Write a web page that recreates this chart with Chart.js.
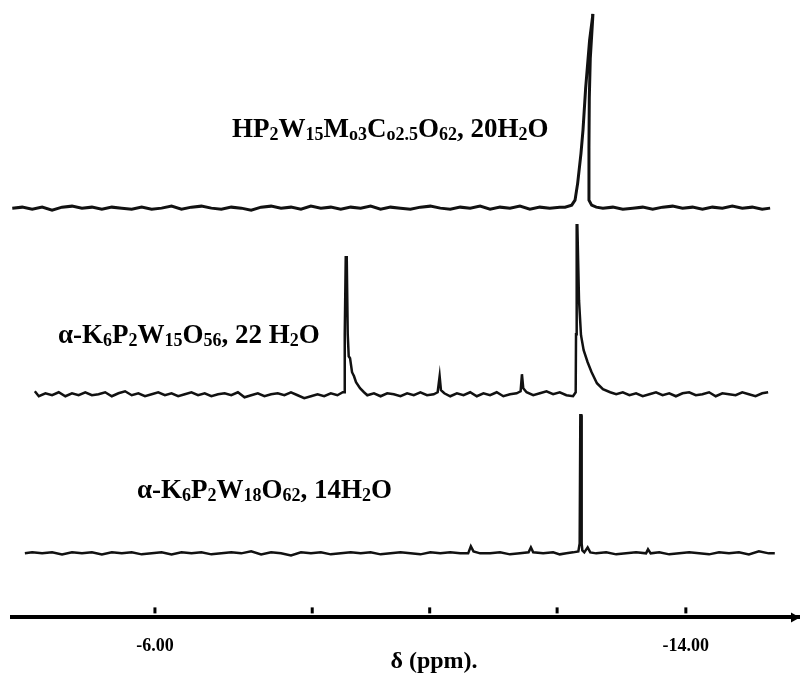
<!DOCTYPE html>
<html>
<head>
<meta charset="utf-8">
<script src="https://cdn.jsdelivr.net/npm/chart.js@4.4.1/dist/chart.umd.min.js"></script>
<style>
  html, body { margin: 0; padding: 0; background: #fff; }
  #wrap { width: 800px; height: 679px; position: relative; }
</style>
</head>
<body>
<div id="wrap"><canvas id="nmr"></canvas></div>
<script>
// 31P NMR spectra, three stacked traces

// x axis (ppm)
const tickValues = [-6, -8.37, -10.14, -12.06, -14];
const tickLabels = ['-6.00', '', '', '', '-14.00'];
const axisTitle = 'δ (ppm).';

// [ppm, intensity] for each spectrum
const topSpectrum = [
  [-3.85, 0], [-4.00, 1], [-4.15, -1], [-4.30, 1], [-4.45, -2], [-4.60, 1], [-4.75, 2], [-4.90, 0],
  [-5.05, 1], [-5.20, -1], [-5.35, 1], [-5.50, 0], [-5.65, -1], [-5.80, 1], [-5.95, -1], [-6.10, 0],
  [-6.25, 2], [-6.40, -1], [-6.55, 1], [-6.70, 2], [-6.85, 0], [-7.00, -1], [-7.15, 1], [-7.30, 0],
  [-7.45, -2], [-7.60, 1], [-7.75, 2], [-7.90, 0], [-8.05, 1], [-8.20, -1], [-8.35, 2], [-8.50, 0],
  [-8.65, 1], [-8.80, -1], [-8.95, 1], [-9.10, 0], [-9.25, 2], [-9.40, -1], [-9.55, 1], [-9.70, 0],
  [-9.85, -1], [-10.00, 1], [-10.15, 2], [-10.30, 0], [-10.45, -1], [-10.60, 1], [-10.75, 0], [-10.90, 2],
  [-11.05, -1], [-11.20, 1], [-11.35, 0], [-11.50, 2], [-11.65, -1], [-11.80, 1], [-11.95, 0], [-12.10, 1],
  [-12.18, 1], [-12.28, 3], [-12.33, 8], [-12.37, 25], [-12.42, 55], [-12.45, 78], [-12.49, 120], [-12.55, 168],
  [-12.60, 194], [-12.595, 188], [-12.56, 150], [-12.545, 110], [-12.54, 60], [-12.54, 8], [-12.58, 3], [-12.65, 1],
  [-12.75, 0], [-12.90, 1], [-13.05, -1], [-13.20, 0], [-13.35, 1], [-13.50, -1], [-13.65, 1], [-13.80, 2],
  [-13.95, 0], [-14.10, 1], [-14.25, -1], [-14.40, 1], [-14.55, 0], [-14.70, 2], [-14.85, 0], [-15.00, 1],
  [-15.15, -1], [-15.27, 0]
];

const midSpectrum = [
  [-4.19, 3], [-4.25, -2], [-4.35, 1], [-4.45, -1], [-4.55, 2], [-4.65, -2], [-4.75, 1], [-4.85, -1],
  [-4.95, 2], [-5.05, -1], [-5.15, 0], [-5.25, 2], [-5.35, -2], [-5.45, 1], [-5.55, 3], [-5.65, -1],
  [-5.75, 1], [-5.85, -2], [-5.95, 0], [-6.05, 2], [-6.15, -1], [-6.25, 1], [-6.35, -2], [-6.45, 0],
  [-6.55, 2], [-6.65, -1], [-6.75, 1], [-6.85, -2], [-6.95, 0], [-7.05, 1], [-7.15, -1], [-7.25, 2],
  [-7.35, -3], [-7.45, -1], [-7.55, 1], [-7.65, -2], [-7.75, 0], [-7.85, 1], [-7.95, -1], [-8.05, 2],
  [-8.15, -1], [-8.25, -4], [-8.35, -2], [-8.45, 0], [-8.55, -2], [-8.65, 1], [-8.75, -1], [-8.83, 2],
  [-8.85, 2], [-8.86, 60], [-8.875, 137], [-8.89, 137], [-8.905, 60], [-8.92, 38], [-8.94, 36], [-8.97, 22],
  [-9.00, 18], [-9.03, 12], [-9.09, 6], [-9.15, 2], [-9.20, -1], [-9.30, 1], [-9.40, -2], [-9.50, 1],
  [-9.60, 0], [-9.70, -2], [-9.80, 1], [-9.90, -1], [-10.00, 2], [-10.10, -1], [-10.20, 0], [-10.26, 2],
  [-10.29, 18], [-10.31, 4], [-10.36, 1], [-10.45, -2], [-10.55, 1], [-10.65, -1], [-10.75, 2], [-10.85, -2],
  [-10.95, 1], [-11.05, -1], [-11.15, 2], [-11.25, -2], [-11.35, 0], [-11.45, 1], [-11.51, 3], [-11.53, 20],
  [-11.55, 6], [-11.60, 2], [-11.70, -1], [-11.80, 1], [-11.90, 3], [-12.00, 0], [-12.10, 2], [-12.20, -1],
  [-12.30, -2], [-12.34, 2], [-12.345, 60], [-12.355, 169], [-12.365, 169], [-12.39, 94], [-12.42, 59], [-12.46, 44],
  [-12.52, 32], [-12.58, 22], [-12.66, 11], [-12.75, 5], [-12.86, 2], [-12.95, 0], [-13.05, 2], [-13.15, -1],
  [-13.25, 1], [-13.35, -2], [-13.45, 0], [-13.55, 2], [-13.65, -1], [-13.75, 1], [-13.85, -2], [-13.95, 1],
  [-14.05, 2], [-14.15, -1], [-14.25, 0], [-14.35, 2], [-14.45, -2], [-14.55, 1], [-14.65, 0], [-14.75, -1],
  [-14.85, 2], [-14.95, 0], [-15.05, -2], [-15.15, 1], [-15.24, 2]
];

const bottomSpectrum = [
  [-4.04, 0], [-4.15, 1], [-4.30, 0], [-4.45, 1], [-4.60, -1], [-4.75, 1], [-4.90, 0], [-5.05, 1],
  [-5.20, -1], [-5.35, 1], [-5.50, 0], [-5.65, 1], [-5.80, -1], [-5.95, 0], [-6.10, 1], [-6.25, -1],
  [-6.40, 1], [-6.55, 0], [-6.70, 1], [-6.85, -1], [-7.00, 0], [-7.15, 1], [-7.30, 0], [-7.45, 2],
  [-7.60, -1], [-7.75, 1], [-7.90, 0], [-8.05, -2], [-8.20, 1], [-8.35, 0], [-8.50, 1], [-8.65, -1],
  [-8.80, 0], [-8.95, 1], [-9.10, 0], [-9.25, 1], [-9.40, -1], [-9.55, 0], [-9.70, 1], [-9.85, 0],
  [-10.00, -1], [-10.15, 1], [-10.30, 0], [-10.45, 1], [-10.60, 0], [-10.72, 0], [-10.76, 7], [-10.80, 2],
  [-10.90, 0], [-11.05, 0], [-11.20, 1], [-11.35, -1], [-11.50, 0], [-11.63, 1], [-11.665, 6], [-11.70, 1],
  [-11.85, 0], [-12.00, 1], [-12.10, -1], [-12.20, 0], [-12.30, 1], [-12.38, 2], [-12.40, 10], [-12.41, 138],
  [-12.425, 138], [-12.43, 10], [-12.44, 3], [-12.47, 1], [-12.52, 6], [-12.56, 1], [-12.65, 0], [-12.80, 1],
  [-12.95, -1], [-13.10, 0], [-13.25, 1], [-13.40, 0], [-13.43, 4], [-13.47, 0], [-13.60, 1], [-13.75, -1],
  [-13.90, 0], [-14.05, 1], [-14.20, 0], [-14.35, -1], [-14.50, 1], [-14.65, 0], [-14.80, 1], [-14.95, -1],
  [-15.10, 2], [-15.25, 0], [-15.34, 0]
];

// vertical offset of each trace baseline (stacked plot)
const traceOffsets = [409, 223, 64];

// formula labels: [text, isSubscript]
const topLabel = [['HP', 0], ['2', 1], ['W', 0], ['15', 1], ['M', 0], ['o3', 1], ['C', 0], ['o2.5', 1],
  ['O', 0], ['62', 1], [', 20H', 0], ['2', 1], ['O', 0]];
const midLabel = [['α-K', 0], ['6', 1], ['P', 0], ['2', 1], ['W', 0], ['15', 1], ['O', 0], ['56', 1],
  [', 22 H', 0], ['2', 1], ['O', 0]];
const bottomLabel = [['α-K', 0], ['6', 1], ['P', 0], ['2', 1], ['W', 0], ['18', 1], ['O', 0], ['62', 1],
  [', 14H', 0], ['2', 1], ['O', 0]];

const SERIF = "'Liberation Serif', 'Times New Roman', serif";

function toPoints(spectrum, offset) {
  return spectrum.map(p => ({ x: p[0], y: p[1] + offset }));
}

function drawFormula(ctx, parts, x, y) {
  ctx.textBaseline = 'alphabetic';
  ctx.textAlign = 'left';
  parts.forEach(([text, sub]) => {
    ctx.font = sub ? 'bold 18px ' + SERIF : 'bold 27px ' + SERIF;
    ctx.fillText(text, x, sub ? y + 3 : y);
    x += ctx.measureText(text).width;
  });
}

// tick marks above the axis, arrow head, labels
const decorPlugin = {
  id: 'decor',
  afterDraw(chart) {
    const ctx = chart.ctx;
    const xs = chart.scales.x;
    const bottom = chart.chartArea.bottom;
    ctx.save();
    ctx.fillStyle = '#000';
    tickValues.forEach(v => {
      const px = xs.getPixelForValue(v);
      ctx.fillRect(px - 1.5, bottom - 10, 3, 6);
    });
    // arrow head at right end
    const right = chart.chartArea.right;
    ctx.beginPath();
    ctx.moveTo(right, bottom);
    ctx.lineTo(right - 9, bottom - 5);
    ctx.lineTo(right - 9, bottom + 5);
    ctx.closePath();
    ctx.fill();

    // axis title
    ctx.font = 'bold 24px ' + SERIF;
    ctx.textAlign = 'center';
    ctx.textBaseline = 'alphabetic';
    ctx.fillText(axisTitle, 434, 668);

    drawFormula(ctx, topLabel, 232, 137);
    drawFormula(ctx, midLabel, 58, 343);
    drawFormula(ctx, bottomLabel, 137, 498);
    ctx.restore();
  }
};

const traceStyle = {
  borderColor: '#111',
  borderWidth: 2.5,
  pointRadius: 0,
  tension: 0,
  fill: false
};

new Chart(document.getElementById('nmr'), {
  type: 'line',
  data: {
    datasets: [
      { label: 'top', data: toPoints(topSpectrum, traceOffsets[0]), ...traceStyle, borderWidth: 3 },
      { label: 'middle', data: toPoints(midSpectrum, traceOffsets[1]), ...traceStyle },
      { label: 'bottom', data: toPoints(bottomSpectrum, traceOffsets[2]), ...traceStyle }
    ]
  },
  options: {
    responsive: true,
    maintainAspectRatio: false,
    animation: false,
    layout: { padding: { left: 12, right: 0, top: 0, bottom: 4 } },
    plugins: {
      legend: { display: false },
      tooltip: { enabled: false }
    },
    scales: {
      x: {
        type: 'linear',
        reverse: true,
        min: -15.72,
        max: -3.846,
        afterBuildTicks: scale => {
          scale.ticks = tickValues.map(v => ({ value: v }));
        },
        grid: { display: false, drawTicks: false },
        border: { display: true, color: '#000', width: 4 },
        ticks: {
          autoSkip: false,
          maxRotation: 0,
          padding: 18,
          color: '#000',
          font: { family: SERIF, size: 18, weight: 'bold' },
          callback: (value, index) => tickLabels[index]
        }
      },
      y: {
        display: false,
        min: 0,
        max: 617
      }
    }
  },
  plugins: [decorPlugin]
});
</script>
</body>
</html>
